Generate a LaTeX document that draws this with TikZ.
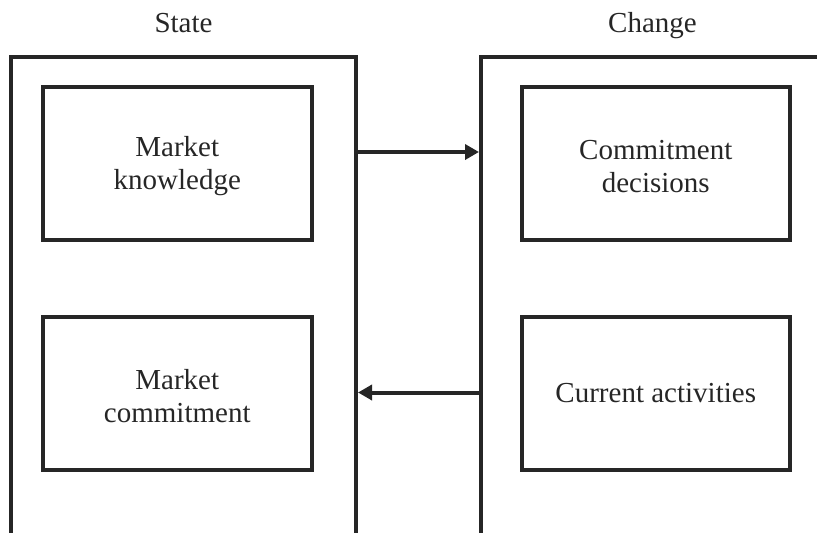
\documentclass[tikz,border=0pt]{standalone}
\usepackage{fontspec}
\setmainfont{Liberation Serif}
\usetikzlibrary{arrows.meta}
\definecolor{ink}{HTML}{262626}
\begin{document}
\begin{tikzpicture}[x=1pt,y=-1pt,
  frame/.style={draw=ink,line width=4pt},
  block/.style={draw=ink,line width=4pt,minimum width=268.5pt,minimum height=153pt,
    inner sep=0pt,align=center,text=ink,font=\fontsize{29}{33}\selectfont},
  lbl/.style={align=center,text=ink,font=\fontsize{29}{33}\selectfont,yshift=-3pt},
  head/.style={text=ink,font=\fontsize{29}{33}\selectfont,anchor=base},
  flow/.style={draw=ink,line width=4pt,-{Triangle[length=14pt,width=15pt]},shorten >=2pt}]
  \useasboundingbox (0,0) rectangle (817,533);

  % column frames, open at the bottom
  \coordinate (sL) at (11,57);  \coordinate (sR) at (356,57);
  \coordinate (cL) at (481,57);
  \draw[frame] (11,540) -- (sL) -- (sR) -- (356,540);
  \draw[frame] (481,540) -- (cL) -- (830,57);

  \node[head] (state)  at (183.5,32) {State};
  \node[head] (change) at (652.5,32) {Change};

  \node[block,label={[lbl]center:Market\\knowledge}] (mk) at (177.25,163.5) {};
  \node[block,label={[lbl]center:Market\\commitment}] (mc) at (177.25,393.5) {};
  \node[block,label={[lbl]center:Commitment\\decisions}] (cd) at (655.75,163.5) {};
  \node[block] (ca) at (655.75,393.5) {Current activities};

  % connectors between the two columns
  \coordinate (a1s) at (356,152); \coordinate (a1e) at (481,152);
  \coordinate (a2s) at (481,392.5); \coordinate (a2e) at (356,392.5);
  \draw[flow] (a1s) -- (a1e);
  \draw[flow] (a2s) -- (a2e);
\end{tikzpicture}
\end{document}
